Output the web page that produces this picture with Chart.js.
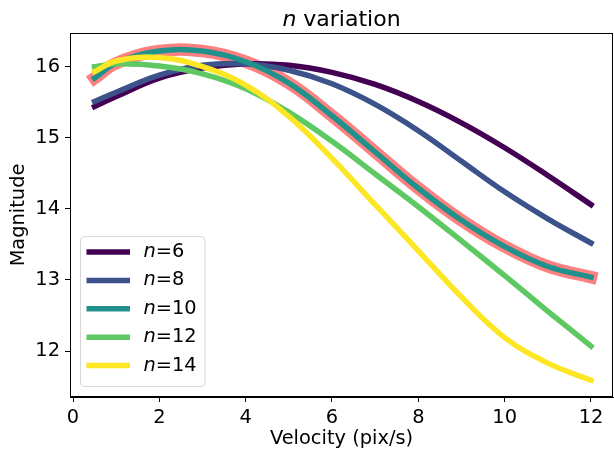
<!DOCTYPE html>
<html>
<head>
<meta charset="utf-8">
<script src="https://cdn.jsdelivr.net/npm/chart.js@4.4.0/dist/chart.umd.min.js"></script>
<style>
  html, body { margin: 0; padding: 0; background: #fff; }
  #wrap { width: 614px; height: 456px; }
</style>
</head>
<body>
<div id="wrap"><canvas id="magChart" width="614" height="456"></canvas></div>
<script>
// velocity samples (pix/s), shared by every curve
const velocity = [0.5, 1, 2, 3, 4, 5, 6, 7, 8, 9, 10, 11, 12];

// magnitude for each n
const mag_n6  = [15.44, 15.58, 15.84, 15.98, 16.04, 16.02, 15.92, 15.75, 15.51, 15.21, 14.86, 14.47, 14.06];
const mag_n8  = [15.51, 15.64, 15.88, 16.02, 16.04, 15.95, 15.76, 15.47, 15.10, 14.67, 14.24, 13.86, 13.52];
const mag_n10 = [15.84, 16.05, 16.22, 16.22, 16.07, 15.77, 15.31, 14.80, 14.29, 13.84, 13.47, 13.19, 13.04];
const mag_n12 = [16.00, 16.04, 16.01, 15.90, 15.69, 15.36, 14.95, 14.49, 14.03, 13.55, 13.06, 12.56, 12.07];
const mag_n14 = [15.93, 16.08, 16.13, 16.00, 15.74, 15.30, 14.71, 14.06, 13.41, 12.76, 12.19, 11.83, 11.59];

const nValues = [6, 8, 10, 12, 14];
const seriesList = [mag_n6, mag_n8, mag_n10, mag_n12, mag_n14];
const viridis = ['#440154', '#3b528b', '#21918c', '#5ec962', '#fde725'];
const highlightN = 10;

const xTicks = [0, 2, 4, 6, 8, 10, 12];
const yTicks = [12, 13, 14, 15, 16];

const FONT = '"DejaVu Sans", "Liberation Sans", sans-serif';

function toPoints(ys) {
    return velocity.map((v, i) => ({ x: v, y: ys[i] }));
}

const datasets = [];
// the highlighted curve gets a thick salmon band underneath
datasets.push({
    label: 'highlight',
    data: toPoints(seriesList[nValues.indexOf(highlightN)]),
    borderColor: '#ff8080',
    borderWidth: 12.5,
    order: 10
});
nValues.forEach(function(n, i) {
    datasets.push({
        label: 'n=' + n,
        nText: '=' + n,
        data: toPoints(seriesList[i]),
        borderColor: viridis[i],
        borderWidth: 5.5,
        order: 5 - i
    });
});

// title, box, axis labels and legend drawn by hand (mixed italic text)
const decorations = {
    id: 'decorations',
    afterDraw(chart) {
        const ctx = chart.ctx;
        const a = chart.chartArea;
        ctx.save();

        // full frame
        ctx.strokeStyle = '#000';
        ctx.lineWidth = 1;
        ctx.strokeRect(a.left + 0.5, a.top + 0.5, a.right - a.left - 1, a.bottom - a.top - 1);

        ctx.fillStyle = '#000';
        ctx.textBaseline = 'alphabetic';

        // title: italic n + " variation"
        const cx = (a.left + a.right) / 2;
        ctx.font = 'italic 22px ' + FONT;
        const w1 = ctx.measureText('n').width;
        ctx.font = '22px ' + FONT;
        const w2 = ctx.measureText(' variation').width;
        let tx = cx - (w1 + w2) / 2;
        ctx.textAlign = 'left';
        ctx.font = 'italic 22px ' + FONT;
        ctx.fillText('n', tx, 26);
        ctx.font = '22px ' + FONT;
        ctx.fillText(' variation', tx + w1, 26);

        // axis titles
        ctx.font = '19.4px ' + FONT;
        ctx.textAlign = 'center';
        ctx.textBaseline = 'middle';
        ctx.fillText('Velocity (pix/s)', cx, 439);
        ctx.save();
        ctx.translate(19, (a.top + a.bottom) / 2);
        ctx.rotate(-Math.PI / 2);
        ctx.fillText('Magnitude', 0, 0);
        ctx.restore();

        // legend box
        const lx = 80.5, ly = 236.5, lw = 124.5, lh = 150;
        ctx.beginPath();
        ctx.roundRect(lx, ly, lw, lh, 4);
        ctx.fillStyle = 'rgba(255,255,255,0.8)';
        ctx.fill();
        ctx.strokeStyle = 'rgba(204,204,204,0.8)';
        ctx.lineWidth = 1;
        ctx.stroke();

        const rows = chart.data.datasets.filter(d => d.nText);
        rows.forEach(function(d, i) {
            const ry = 252 + i * 28.4;
            ctx.beginPath();
            ctx.moveTo(86.5, ry);
            ctx.lineTo(130, ry);
            ctx.strokeStyle = d.borderColor;
            ctx.lineWidth = 5.5;
            ctx.lineCap = 'butt';
            ctx.stroke();

            ctx.fillStyle = '#000';
            ctx.textAlign = 'left';
            ctx.textBaseline = 'middle';
            ctx.font = 'italic 19.4px ' + FONT;
            const nw = ctx.measureText('n').width;
            ctx.fillText('n', 143.5, ry);
            ctx.font = '19.4px ' + FONT;
            ctx.fillText(d.nText, 143.5 + nw, ry);
        });

        ctx.restore();
    }
};

const ctx = document.getElementById('magChart').getContext('2d');
const magChart = new Chart(ctx, {
    type: 'line',
    data: { datasets: datasets },
    plugins: [decorations],
    options: {
        responsive: false,
        animation: false,
        devicePixelRatio: 1,
        layout: { padding: { top: 33, left: 0, right: 1, bottom: 0 } },
        elements: {
            point: { radius: 0 },
            line: { tension: 0.4, borderCapStyle: 'square', fill: false }
        },
        plugins: {
            legend: { display: false },
            title: { display: false },
            tooltip: { enabled: false }
        },
        scales: {
            x: {
                type: 'linear',
                min: -0.0695,
                max: 12.51,
                afterFit: function(scale) { scale.height = 59; },
                afterBuildTicks: function(scale) {
                    scale.ticks = xTicks.map(v => ({ value: v }));
                },
                ticks: {
                    color: '#000',
                    padding: 4,
                    font: { family: FONT, size: 19.4 },
                    maxRotation: 0,
                    callback: v => String(v)
                },
                grid: {
                    drawOnChartArea: false,
                    drawTicks: true,
                    tickLength: 5,
                    tickColor: '#000'
                },
                border: { display: true, color: '#000', width: 1 }
            },
            y: {
                type: 'linear',
                min: 11.354,
                max: 16.474,
                afterFit: function(scale) { scale.width = 70; },
                afterBuildTicks: function(scale) {
                    scale.ticks = yTicks.map(v => ({ value: v }));
                },
                ticks: {
                    color: '#000',
                    padding: 5,
                    font: { family: FONT, size: 19.4 },
                    callback: v => String(v)
                },
                grid: {
                    drawOnChartArea: false,
                    drawTicks: true,
                    tickLength: 5,
                    tickColor: '#000'
                },
                border: { display: true, color: '#000', width: 1 }
            }
        }
    }
});
</script>
</body>
</html>
